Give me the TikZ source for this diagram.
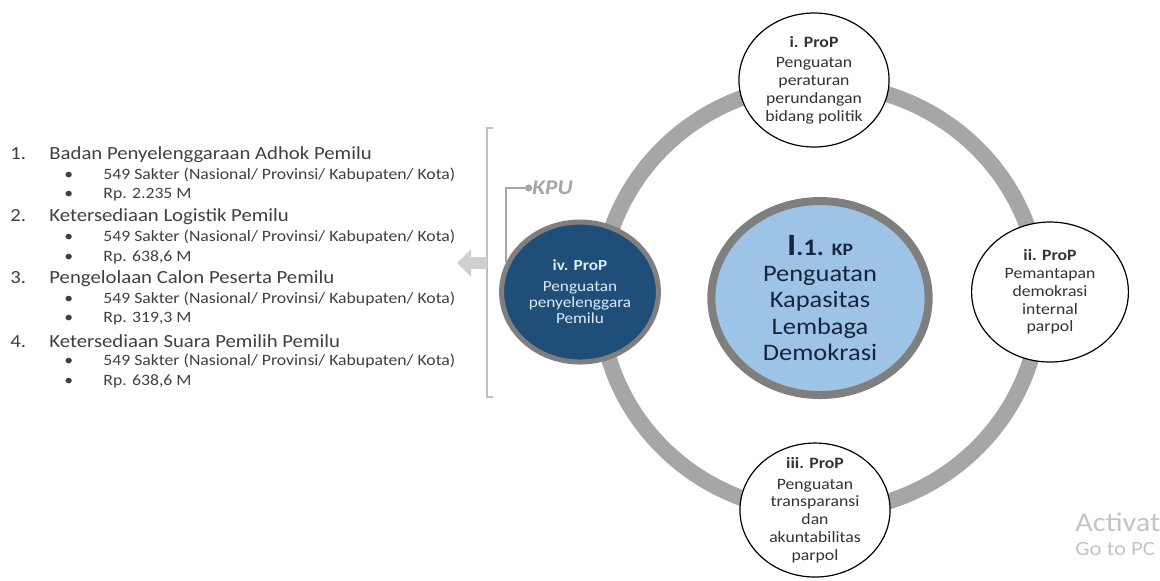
\documentclass[tikz,border=0pt]{standalone}
\usepackage{fontspec}
\setmainfont{Carlito}
\usetikzlibrary{arrows,arrows.meta,positioning,shapes.geometric}

\definecolor{ringgray}{HTML}{A6A6A6}
\definecolor{kpgray}{HTML}{7F7F7F}
\definecolor{kpblue}{HTML}{9DC3E6}
\definecolor{kptext}{HTML}{14263E}
\definecolor{ivblue}{HTML}{1F4E79}
\definecolor{ivtext}{HTML}{DEEBF7}
\definecolor{listtext}{HTML}{404040}
\definecolor{circtext}{HTML}{333333}
\definecolor{brkgray}{HTML}{BFBFBF}
\definecolor{arrgray}{HTML}{D0D0D0}
\definecolor{wmgray}{HTML}{C4C4C4}

\begin{document}
\begin{tikzpicture}[x=0.4464pt, y=-0.5pt, xscale=1.12, transform shape,
    ring/.style={ellipse, draw=ringgray, line width=8pt, inner sep=0pt,
      minimum width=196.4pt, minimum height=214pt},
    kp/.style={circle, fill=kpblue, draw=kpgray, line width=4pt, inner sep=0pt,
      minimum size=97pt, align=center, text=kptext,
      font=\fontsize{11.8}{13}\selectfont},
    prop/.style={circle, draw, line width=0.6pt, fill=white, inner sep=0pt,
      minimum size=67pt, align=center, text=circtext,
      font=\fontsize{7.9}{8.9}\selectfont},
    propdark/.style={prop, fill=ivblue, draw=kpgray, line width=2.5pt,
      minimum size=70pt, text=ivtext, font=\fontsize{7.7}{8.2}\selectfont},
    itemline/.style={anchor=west, inner sep=0pt, text=listtext,
      font=\fontsize{9.26}{11}\selectfont},
    subline/.style={anchor=west, inner sep=0pt, text=listtext,
      font=\fontsize{7.9}{10}\selectfont},
    kpulabel/.style={anchor=west, inner sep=0pt, text=ringgray,
      font=\fontsize{10.4}{12}\selectfont\bfseries\itshape},
    kpuline/.style={draw=ringgray, line width=0.8pt, -{Circle[length=3.5pt]}},
    brk/.style={draw=brkgray, line width=0.8pt},
    fatarrow/.style={draw=arrgray, line width=6pt, -{Triangle[length=7pt, width=13.5pt]}},
    wm/.style={anchor=west, inner sep=0pt, text=wmgray}]
  \useasboundingbox (0,0) rectangle (1160,580);

  % list of programmes
  \node[itemline] (L1)  at (10,155) {\makebox[17.4pt][l]{1.}Badan Penyelenggaraan Adhok Pemilu};
  \node[subline]  (L1a) at (64,175) {\makebox[17.4pt][l]{•}549 Sakter (Nasional/ Provinsi/ Kabupaten/ Kota)};
  \node[subline]  (L1b) at (64,195) {\makebox[17.4pt][l]{•}Rp. 2.235 M};
  \node[itemline] (L2)  at (10,217) {\makebox[17.4pt][l]{2.}Ketersediaan Logistik Pemilu};
  \node[subline]  (L2a) at (64,237) {\makebox[17.4pt][l]{•}549 Sakter (Nasional/ Provinsi/ Kabupaten/ Kota)};
  \node[subline]  (L2b) at (64,257) {\makebox[17.4pt][l]{•}Rp. 638,6 M};
  \node[itemline] (L3)  at (10,279) {\makebox[17.4pt][l]{3.}Pengelolaan Calon Peserta Pemilu};
  \node[subline]  (L3a) at (64,299) {\makebox[17.4pt][l]{•}549 Sakter (Nasional/ Provinsi/ Kabupaten/ Kota)};
  \node[subline]  (L3b) at (64,319) {\makebox[17.4pt][l]{•}Rp. 319,3 M};
  \node[itemline] (L4)  at (10,341) {\makebox[17.4pt][l]{4.}Ketersediaan Suara Pemilih Pemilu};
  \node[subline]  (L4a) at (64,361) {\makebox[17.4pt][l]{•}549 Sakter (Nasional/ Provinsi/ Kabupaten/ Kota)};
  \node[subline]  (L4b) at (64,381) {\makebox[17.4pt][l]{•}Rp. 638,6 M};

  % bracket and arrow
  \draw[brk] (493,128) -- (487,128) -- (487,397) -- (493,397);
  \coordinate (arrtail) at (487,263);
  \coordinate (arrtip)  at (457,263);
  \draw[fatarrow] (arrtail) -- (arrtip);

  % ring with the four ProP
  \node[ring] (R) at (820,298) {};
  \node[kpulabel] (KPU) at (532,188) {KPU};
  \coordinate (kpufoot) at (506,262);
  \draw[kpuline] (kpufoot) |- (KPU.west);

  \node[kp] (KP) at (820,298)
    {{\fontsize{15.5}{15.5}\selectfont\textbf{I}}\textbf{.1. }{\fontsize{8.7}{8.7}\selectfont\textbf{KP}}\\
     Penguatan\\ Kapasitas\\ Lembaga\\ Demokrasi};
  \node[prop] (P1) at (814,80)
    {\textbf{i. ProP}\\[1.5pt] Penguatan\\ peraturan\\ perundangan\\ bidang politik};
  \node[prop, minimum size=70pt] (P2) at (1050,292)
    {\textbf{ii. ProP}\\ Pemantapan\\ demokrasi\\ internal\\ parpol};
  \node[prop] (P3) at (815,510)
    {\textbf{iii. ProP}\\[1.5pt] Penguatan\\ transparansi\\ dan\\ akuntabilitas\\ parpol};
  \node[propdark] (P4) at (580,292)
    {\textbf{iv. ProP}\\[2pt] Penguatan\\ penyelenggara\\ Pemilu};

  % watermark
  \node[wm, font=\fontsize{13.5}{14}\selectfont] (act) at (1075,522) {Activat};
  \node[wm, font=\fontsize{10.1}{12}\selectfont] (goto) at (1075,549) {Go to PC};
\end{tikzpicture}
\end{document}
